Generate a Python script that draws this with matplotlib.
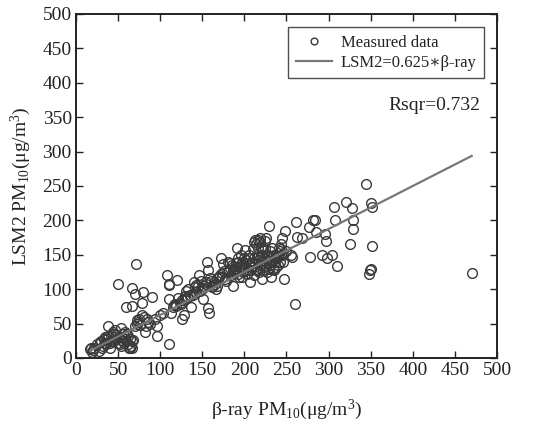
import matplotlib
matplotlib.use("Agg")
import matplotlib.pyplot as plt
import numpy as np

plt.rcParams['font.family'] = ['Liberation Serif', 'DejaVu Serif']
plt.rcParams['mathtext.fontset'] = 'custom'
plt.rcParams['mathtext.rm'] = 'Liberation Serif'
plt.rcParams['mathtext.it'] = 'Liberation Serif:italic'
plt.rcParams['mathtext.default'] = 'regular'

# Measured data (beta-ray PM10, LSM2 PM10)
beta_ray = [17, 18, 19, 27, 28, 30, 32, 33, 35, 36, 38, 38, 40, 40, 42, 44, 45, 46, 48, 50,
            50, 52, 53, 54, 55, 56, 58, 58, 60, 60, 62, 62, 63, 64, 65, 66, 66, 67, 67, 68,
            70, 71, 72, 73, 75, 78, 79, 80, 81, 82, 83, 84, 90, 96, 96, 103, 108, 110, 111, 111,
            111, 113, 116, 118, 120, 121, 125, 126, 128, 130, 131, 133, 135, 137, 140, 141, 143, 146, 148, 150,
            151, 152, 155, 156, 157, 157, 158, 160, 162, 165, 166, 168, 170, 172, 173, 175, 177, 180, 182, 185,
            186, 188, 190, 191, 192, 193, 195, 196, 197, 198, 200, 200, 201, 203, 205, 206, 207, 208, 210, 211,
            212, 213, 214, 215, 216, 217, 218, 219, 220, 221, 222, 223, 224, 225, 226, 227, 228, 229, 230, 231,
            232, 233, 234, 235, 236, 237, 238, 240, 241, 242, 243, 244, 245, 246, 247, 248, 250, 255, 257, 260,
            261, 263, 268, 277, 278, 282, 284, 285, 292, 296, 297, 298, 304, 307, 308, 310, 321, 326, 328, 329,
            329, 345, 348, 349, 350, 350, 351, 351, 470,
            180, 183, 187, 189, 192, 194, 196, 199, 202, 204, 206, 209, 211, 213, 215, 217, 219, 221, 223, 225,
            227, 229, 231, 233, 235, 238, 240, 242, 244, 246, 214, 216, 218, 220, 222, 226, 210, 205, 198, 194,
            190, 186, 184, 178, 176, 174, 171, 168, 164, 161, 159, 154, 151, 147, 145, 142, 139, 136, 132, 129,
            126, 123, 119, 115, 100, 94, 88, 85, 76, 74, 70, 46, 44, 42, 37, 34, 31, 25, 22, 54,
            57, 61, 64, 20, 48]
lsm2 = [13, 15, 9, 10, 23, 25, 18, 28, 30, 20, 32, 46, 15, 22, 25, 38, 35, 40, 28, 22,
        107, 20, 26, 43, 30, 35, 38, 28, 25, 74, 32, 20, 15, 14, 18, 14, 24, 101, 75, 26,
        93, 137, 50, 55, 57, 80, 63, 96, 60, 38, 47, 57, 88, 46, 32, 66, 121, 108, 106, 86,
        21, 65, 77, 79, 113, 87, 78, 56, 63, 90, 97, 100, 92, 74, 110, 103, 106, 120, 112, 100,
        86, 104, 110, 140, 128, 72, 65, 112, 103, 108, 100, 105, 118, 146, 124, 136, 115, 140, 128, 135,
        104, 130, 138, 160, 122, 145, 132, 150, 118, 140, 128, 145, 157, 122, 135, 150, 110, 128, 140, 120,
        168, 172, 130, 150, 160, 125, 175, 145, 140, 115, 128, 132, 170, 160, 140, 125, 150, 192, 145, 135,
        118, 160, 130, 128, 140, 150, 145, 135, 160, 155, 165, 150, 175, 140, 115, 185, 155, 150, 147, 78,
        198, 176, 175, 190, 147, 200, 200, 183, 150, 180, 170, 145, 150, 220, 200, 133, 227, 165, 218, 200,
        188, 253, 122, 128, 130, 225, 220, 163, 124,
        125, 138, 132, 125, 140, 128, 136, 132, 142, 128, 138, 132, 145, 138, 128, 142, 135, 150, 145, 135,
        142, 130, 155, 140, 150, 132, 148, 140, 158, 150, 165, 172, 168, 162, 158, 175, 158, 145, 125, 118,
        130, 126, 120, 112, 126, 118, 120, 116, 110, 105, 116, 108, 102, 98, 104, 96, 92, 90, 88, 86,
        84, 80, 76, 74, 62, 56, 50, 52, 48, 52, 46, 30, 24, 33, 27, 22, 15, 20, 14, 18,
        22, 35, 28, 12, 34]

fit_slope = 0.625
r_squared = 0.732

x_ticks = [0, 50, 100, 150, 200, 250, 300, 350, 400, 450, 500]
y_ticks = [0, 50, 100, 150, 200, 250, 300, 350, 400, 450, 500]

fig = plt.figure(figsize=(5.45, 4.24), dpi=100)
ax = fig.add_axes([0.1394, 0.1557, 0.7725, 0.8113])

bx = np.array(beta_ray, dtype=float)
ly = np.array(lsm2, dtype=float)
ax.plot(bx, ly, 'o', mfc='none', mec='#3a3a3a', mew=1.0, ms=7.0,
        label='Measured data', zorder=2)
xf = np.array([bx.min(), bx.max()])
ax.plot(xf, fit_slope * xf, '-', color='#777777', lw=1.6,
        label='LSM2=0.625\u2217\u03b2-ray', zorder=3)

ax.set_xlim(0, 500)
ax.set_ylim(0, 500)
ax.set_xticks(x_ticks)
ax.set_yticks(y_ticks)
ax.tick_params(direction='in', length=5, width=1.0, top=True, right=True,
               labelsize=14, pad=3, colors='#222222')
for s in ax.spines.values():
    s.set_linewidth(1.4)
    s.set_color('#222222')

ax.set_xlabel('\u03b2-ray PM$_{10}$(\u03bcg/m$^{3}$)', fontsize=14, labelpad=13, color='#222222')
ax.set_ylabel('LSM2 PM$_{10}$(\u03bcg/m$^{3}$)', fontsize=14, labelpad=7, color='#222222')

leg = ax.legend(loc='upper right', bbox_to_anchor=(0.969, 0.962), borderaxespad=0,
                fontsize=12, frameon=True, fancybox=False, markerscale=0.7,
                handlelength=2.2, handletextpad=0.5, borderpad=0.45, labelspacing=0.25)
leg.get_frame().set_edgecolor('#222222')
leg.get_frame().set_linewidth(1.0)
for t in leg.get_texts():
    t.set_color('#222222')

ax.text(0.96, 0.733, 'Rsqr=%.3f' % r_squared, transform=ax.transAxes,
        ha='right', va='center', fontsize=14, color='#222222')

fig.savefig('out.png', dpi=100)
